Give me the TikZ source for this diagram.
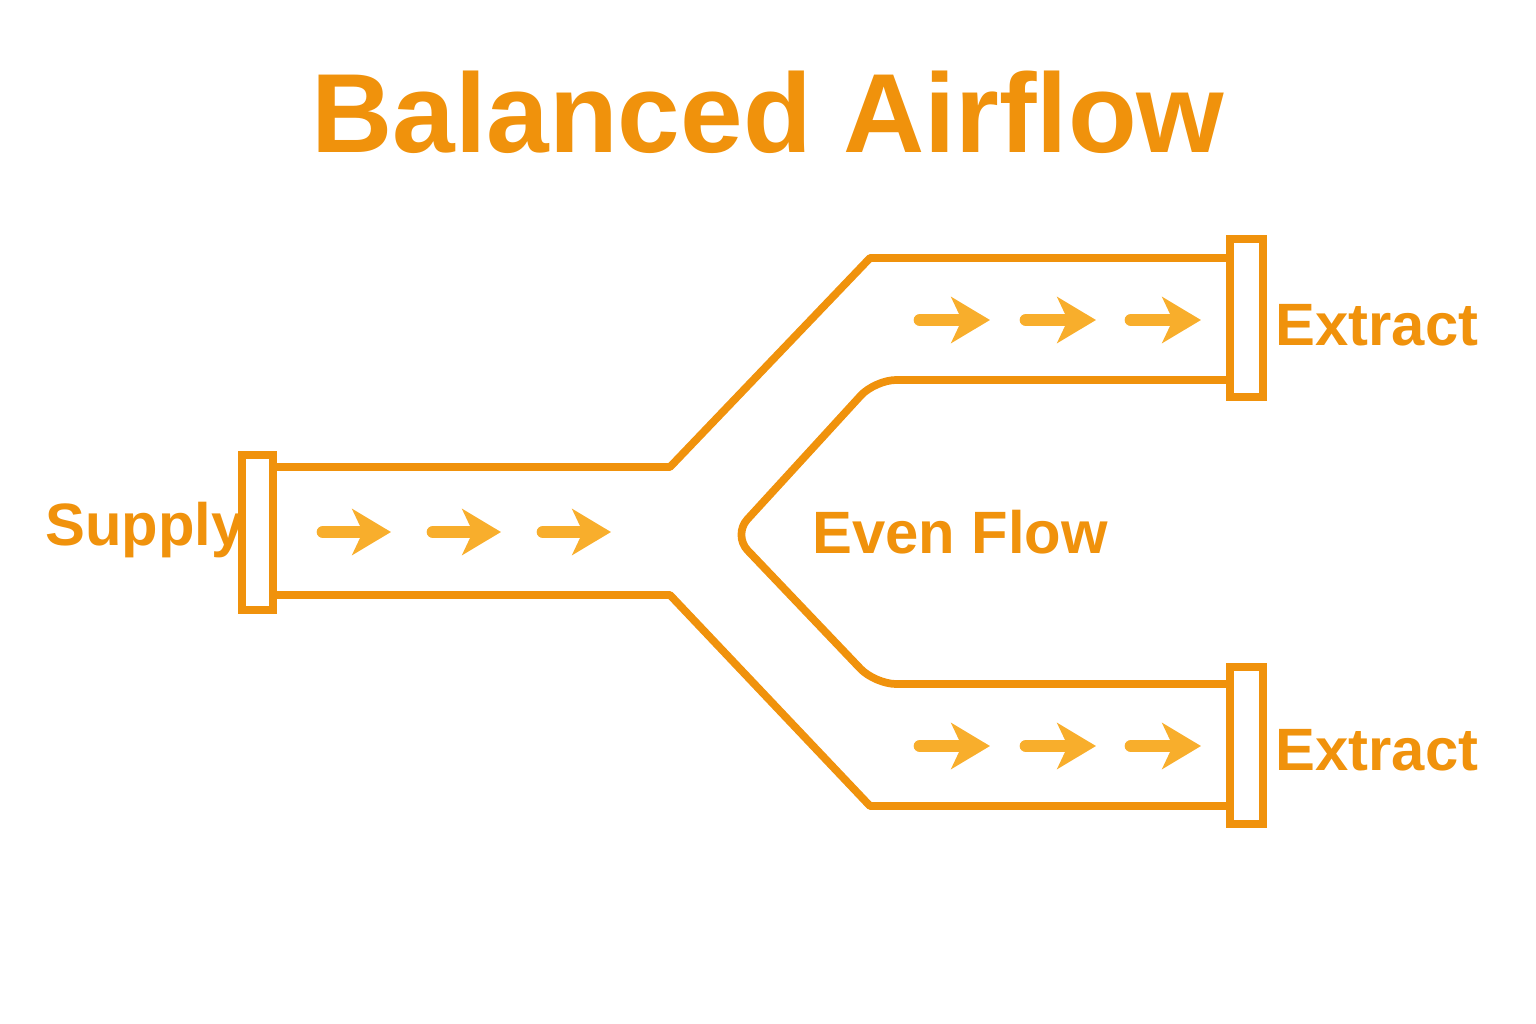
\documentclass[tikz,border=0pt]{standalone}
\usepackage{fontspec}
\setmainfont{Liberation Sans}
\usetikzlibrary{arrows.meta}
\definecolor{duct}{HTML}{F0920C}
\definecolor{flow}{HTML}{F8AE2C}
\begin{document}
\begin{tikzpicture}[x=0.01cm, y=-0.01cm,
    pipe/.style={draw=duct, line width=2.2pt, line join=round},
    flange/.style={draw=duct, line width=2.4pt, fill=white},
    flowarrow/.style={draw=flow, line width=3.6pt, line cap=round,
        -{Stealth[length=11pt, width=13pt, inset=3pt]}},
    lbl/.style={text=duct, font=\bfseries\fontsize{17}{20}\selectfont}]
    \useasboundingbox (0,0) rectangle (1536,1024);
    % title
    \node [text=duct, font=\bfseries\fontsize{32}{36}\selectfont] (title) at (768,112) {Balanced Airflow};
    % duct walls
    \draw [pipe] (273,467) -- (670,467) -- (870,258) -- (1230,258);
    \draw [pipe] (273,595) -- (670,595) -- (870,806) -- (1230,806);
    \draw [pipe, rounded corners=6pt] (1230,380) -- (875,380) -- (733,535) -- (875,684) -- (1230,684);
    % flanges
    \draw [flange] (242,455) rectangle (273,610);
    \draw [flange] (1230,239) rectangle (1263,397);
    \draw [flange] (1230,667) rectangle (1263,824);
    % flow arrows
    \foreach \x in {323,433,543}
        \draw [flowarrow] (\x,532) -- ++(68,0);
    \foreach \x in {920,1026,1131}
    {
        \draw [flowarrow] (\x,320) -- ++(70,0);
        \draw [flowarrow] (\x,746) -- ++(70,0);
    }
    % labels
    \node [lbl] (supply) at (145,530) {Supply};
    \node [lbl] (even) at (960,532) {Even Flow};
    \node [lbl] (extractup) at (1377,325) {Extract};
    \node [lbl] (extractdown) at (1377,750) {Extract};
\end{tikzpicture}
\end{document}
